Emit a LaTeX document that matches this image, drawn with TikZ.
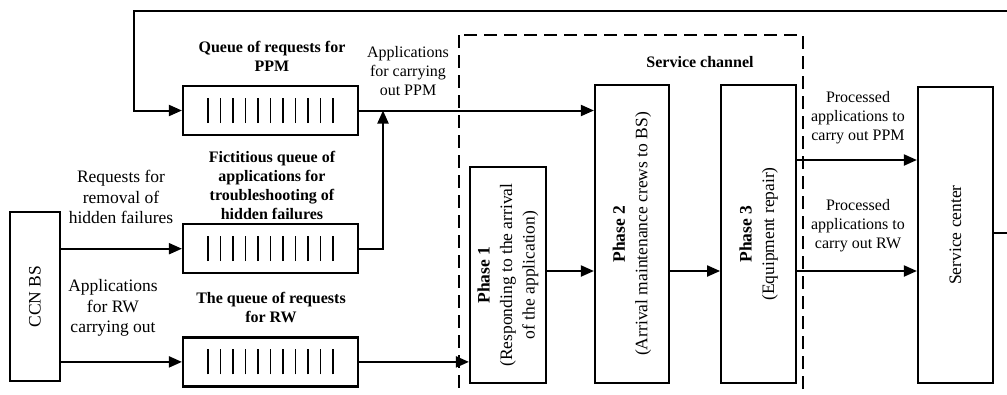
\documentclass[tikz,border=0pt]{standalone}
\usepackage{fontspec}
\setmainfont{Liberation Serif}
\usepackage{tikz}
\usetikzlibrary{positioning, arrows.meta}

\tikzstyle{Arrow} = [
line width=2pt,
-{Triangle[length=13pt,width=11pt]}]
\tikzstyle{Box} = [draw, line width=2.2pt, inner sep=0pt]
\tikzstyle{Queue} = [Box, minimum width=175pt, minimum height=49pt,
path picture={
\foreach \k in {0,...,10}
\draw[line width=1.1pt] ([xshift={(25+12.5*\k)*1pt}, yshift=-12.5pt]path picture bounding box.west) -- ++(0pt,25pt);}]
\tikzstyle{Txt} = [font=\fontsize{16}{19}\selectfont, align=center, inner sep=0pt]
\tikzstyle{Side} = [Txt, font=\fontsize{17.5}{20.5}\selectfont]
\tikzstyle{Rot} = [Txt, font=\fontsize{17.5}{22.5}\selectfont, rotate=90]
\tikzstyle{Head} = [Txt, font=\fontsize{16}{19}\selectfont\bfseries]
\tikzstyle{Channel} = [line width=2pt, dash pattern=on 13pt off 7pt]

\begin{document}
\begin{tikzpicture}[x=1pt, y=-1pt]
    \clip (0,0) rectangle (1007,394);

    % queues
    \node[Queue] (q1) at (270.5,110.5) {};
    \node[Queue, below=87pt of q1] (q2) {};
    \node[Queue, below=62pt of q2] (q3) {};
    \node[Head] (q1T) at (272,56) {Queue of requests for\\PPM};
    \node[Head] (q2T) at (272,185) {Fictitious queue of\\applications for\\troubleshooting of\\hidden failures};
    \node[Head] (q3T) at (271,307) {The queue of requests\\for RW};

    % source
    \node[Box, minimum width=50pt, minimum height=169pt] (ccn) at (35,296.5) {};
    \node[Rot] (ccnT) at (ccn) {CCN BS};
    \node[Side] (reqT) at (121,197) {Requests for\\removal of\\hidden failures};
    \node[Side] (rwT) at (113,308) {Applications\\for RW\\carrying out};
    \node[Txt] (appT) at (408,71) {Applications\\for carrying\\out PPM};

    % service channel
    \draw[Channel] (459,35) rectangle (803,400);
    \node[Head] (chT) at (700,62) {Service channel};
    \node[Box, minimum width=76pt, minimum height=216pt] (ph1) at (508,275) {};
    \node[Box, minimum width=74pt, minimum height=298pt] (ph2) at (632,234) {};
    \node[Box, minimum width=75pt, minimum height=298pt, right=50pt of ph2] (ph3) {};
    \node[Rot] (ph1T) at (ph1) {\textbf{Phase 1}\\(Responding to the arrival\\of the application)};
    \node[Rot] (ph2T) at (ph2) {\textbf{Phase 2}\\(Arrival maintenance crews to BS)};
    \node[Rot] (ph3T) at (ph3) {\textbf{Phase 3}\\(Equipment repair)};

    % service center
    \node[Box, minimum width=75pt, minimum height=296pt] (sc) at (955.5,235) {};
    \node[Rot] (scT) at (sc) {Service center};
    \node[Txt] (outP) at (858,118) {Processed\\applications to\\carry out PPM};
    \node[Txt] (outR) at (858,226) {Processed\\applications to\\carry out RW};

    \coordinate (scOut) at ([yshift=2pt]sc.east);
    \coordinate (loop) at (134,11);
    \coordinate (back) at (1015,11);
    \coordinate (join) at (383,110.5);
    \coordinate (row) at (0,271);
    \coordinate (rowP) at (0,160);

    \draw[Arrow] (scOut) -- (back |- scOut) -- (back) -- (loop) -- (loop |- q1.west) -- (q1.west);
    \draw[Arrow] (q1.east) -- (ph2.west |- q1.east);
    \draw[Arrow] (q2.east) -| (join);
    \draw[Arrow] (ccn.east |- q2.west) -- (q2.west);
    \draw[Arrow] (ccn.east |- q3.west) -- (q3.west);
    \draw[Arrow] (q3.east) -- (ph1.west |- q3.east);
    \draw[Arrow] (ph1.east |- row) -- (ph2.west |- row);
    \draw[Arrow] (ph2.east |- row) -- (ph3.west |- row);
    \draw[Arrow] (ph3.east |- row) -- (sc.west |- row);
    \draw[Arrow] (ph3.east |- rowP) -- (sc.west |- rowP);
\end{tikzpicture}
\end{document}
